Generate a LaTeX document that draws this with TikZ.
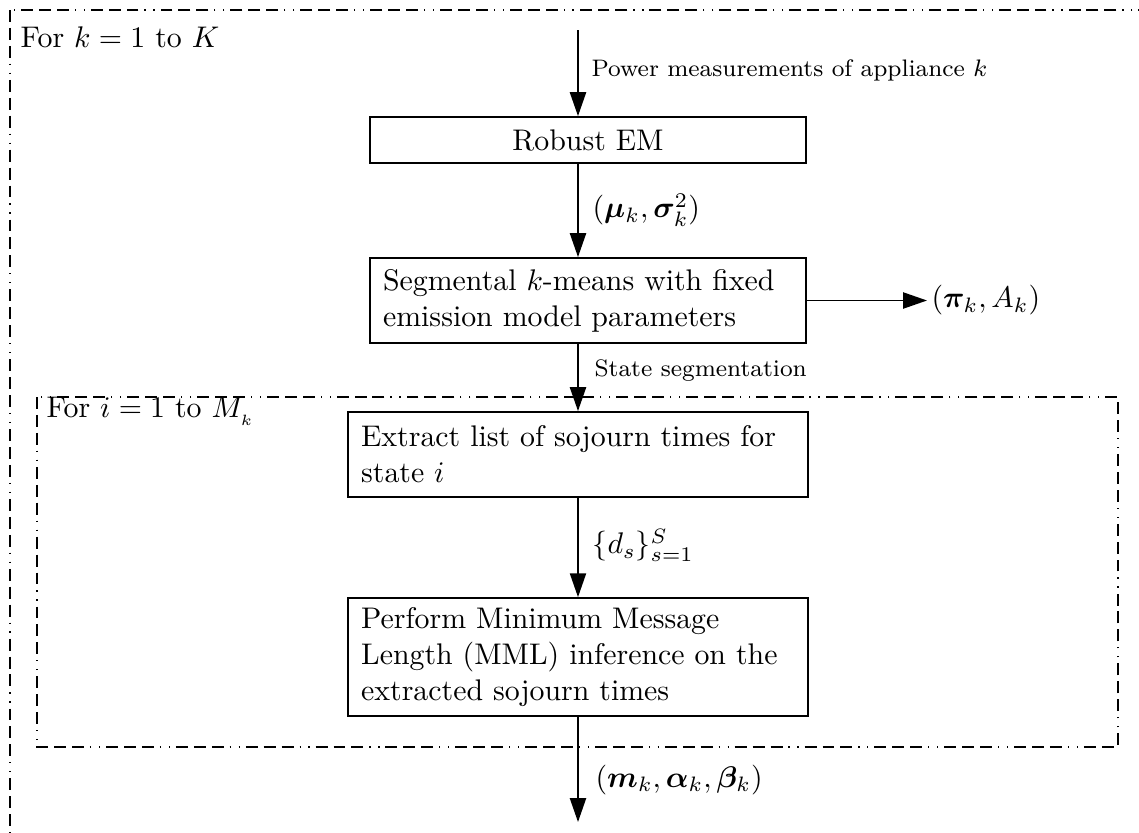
\documentclass[tikz,border=0pt]{standalone}
\usepackage{amsmath}
\usepackage{bm}
\usetikzlibrary{arrows.meta}

\tikzset{
  box/.style={draw, line width=0.6pt},
  onebox/.style={box, align=center, inner sep=0pt, minimum width=146.1pt, minimum height=15.4pt},
  multibox/.style={box, align=left, inner xsep=4.4pt, inner ysep=0pt, text width=#1},
  arr/.style={line width=0.6pt, -{Triangle[length=8pt,width=5.4pt]}},
  loopframe/.style={line width=0.65pt,
    dash pattern=on 4pt off 2pt on 4pt off 2pt on 4pt off 2pt on 0.4pt off 2.6pt on 0.4pt off 2pt},
  lbl/.style={anchor=west, inner sep=0pt},
  small lbl/.style={lbl, font=\footnotesize},
}

\begin{document}
\begin{tikzpicture}[x=0.335pt, y=-0.335pt]
  \useasboundingbox (0,0) rectangle (1139,833);
  \clip (0,0) rectangle (1139,833);

  % outer loop over appliances
  \draw[loopframe] (10,10) rectangle (1170,870);
  \node[lbl] (outerlbl) at (20,37) {For $k=1$ to $K$};

  % processing steps
  \node[onebox] (robust) at (588,140) {Robust EM};
  \node[multibox=137.3pt, minimum height=28.5pt] (segm) at (588,300.5)
    {Segmental $k$-means with fixed\\ emission model parameters};

  % inner loop over states
  \draw[loopframe] (37,397) rectangle (1118,747);
  \node[lbl] (innerlbl) at (46,411) {For $i=1$ to $M_{_k}$};

  \node[multibox=145.3pt, minimum height=28.5pt] (extract) at (578,454.5)
    {Extract list of sojourn times for\\ state $i$};
  \node[multibox=145.3pt, minimum height=39.5pt] (mml) at (578,657)
    {Perform Minimum Message\\ Length (MML) inference on the\\ extracted sojourn times};

  % connectors
  \coordinate (input) at (578,30);
  \coordinate (output) at (578,822);
  \coordinate (side) at (927,300.5);

  \draw[arr] (input) -- (input |- robust.north);
  \draw[arr] (robust.south -| input) -- (segm.north -| input);
  \draw[arr] (segm.east) -- (side);
  \draw[arr] (segm.south -| input) -- (extract.north);
  \draw[arr] (extract.south) -- (mml.north);
  \draw[arr] (mml.south) -- (output);

  % connector labels
  \node[small lbl] (pwr) at (591,70) {Power measurements of appliance $k$};
  \node[lbl] (emis) at (592,210) {$(\bm{\mu}_k,\bm{\sigma}_k^2)$};
  \node[lbl] (trans) at (931,300.5) {$(\bm{\pi}_k,A_k)$};
  \node[small lbl] (seglbl) at (594,371) {State segmentation};
  \node[lbl] (durs) at (592,545) {$\{d_s\}_{s=1}^S$};
  \node[lbl] (params) at (595,780) {$(\bm{m}_k,\bm{\alpha}_k,\bm{\beta}_k)$};
\end{tikzpicture}
\end{document}
